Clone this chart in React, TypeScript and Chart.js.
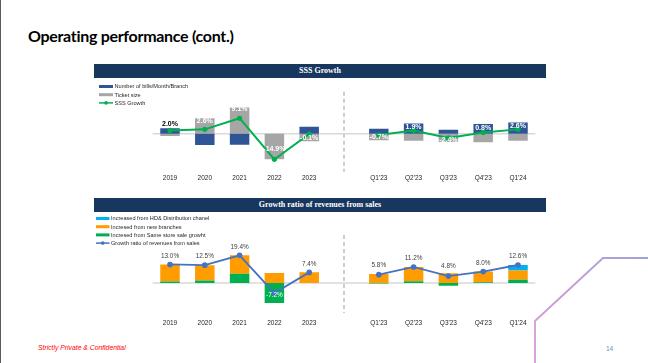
import React, { useEffect, useRef } from 'react';
import { Chart, registerables } from 'chart.js';

Chart.register(...registerables);

// ---------- DATA ----------
const categories = ['2019', '2020', '2021', '2022', '2023', '', "Q1'23", "Q2'23", "Q3'23", "Q4'23", "Q1'24"];

// SSS Growth chart
const billsData = [3.3, -6.5, -6.3, 0, 4.2, null, 3.0, 6.0, 2.4, 5.7, 6.6];
const ticketData = [-1.3, 9.1, 15.4, -14.9, -4.3, null, -3.7, -4.1, -4.8, -4.9, -4.0];
const sssData = [2.0, 2.6, 9.1, -14.9, -0.1, null, -0.7, 1.9, -2.4, 0.8, 2.6];
const sssLegend = ['Number of bills/Month/Branch', 'Ticket size', 'SSS Growth'];

// Revenue growth chart
const hdData = [0, 0, 0, 0, 0, null, 0, 0, 0, 0, 3.8];
const newBranchData = [12.0, 10.8, 12.9, 7.0, 7.5, null, 6.2, 10.0, 6.8, 7.5, 6.5];
const sameStoreData = [1.0, 1.7, 6.5, -14.2, -0.1, null, -0.4, 1.2, -2.0, 0.5, 2.3];
const growthData = [13.0, 12.5, 19.4, -7.2, 7.4, null, 5.8, 11.2, 4.8, 8.0, 12.6];
const revLegend = [
  'Increased from HD& Distribution chanel',
  'Incresed from new branches',
  'Incresed from Same store sale growht',
  'Growth ratio of revenues from sales',
];

// ---------- STYLE ----------
const NAVY = '#17375E';
const BLUE = '#2F5597';
const GRAY = '#A6A6A6';
const GREEN = '#00B050';
const ORANGE = '#FF9C00';
const SKY = '#00B0F0';
const LINEBLUE = '#4472C4';
const FONT = "'Liberation Sans', Arial, sans-serif";

const sssLabelOffsets = [-6.5, -8, -9, -10, 4.5, 0, 2, -3.5, 2, -4.5, -3];
const revLabelOffsets = [-8.5, -8.5, -8, 2.5, -8.5, 0, -9, -9, -10, -8.5, -8.5];

type LegendItem = { text: string; color: string; kind: 'bar' | 'line' };

function makeDecor(opts: {
  dashTop: number;
  dashBottom: number;
  lineIndex: number;
  offsets: number[];
  labelColor: (i: number) => string;
  labelFont: string;
  legend: LegendItem[];
  legendX: number;
  legendTextX: number;
  legendY: number;
  legendStep: number;
}) {
  return {
    id: 'decor',
    beforeDatasetsDraw(chart: any) {
      const { ctx, chartArea, scales } = chart;
      const y0 = scales.y.getPixelForValue(0);
      ctx.save();
      ctx.strokeStyle = '#D9D9D9';
      ctx.lineWidth = 1.5;
      ctx.beginPath();
      ctx.moveTo(chartArea.left, y0);
      ctx.lineTo(chartArea.right, y0);
      ctx.stroke();
      const xs = scales.x.getPixelForValue(5);
      ctx.setLineDash([4, 3]);
      ctx.strokeStyle = '#BFBFBF';
      ctx.beginPath();
      ctx.moveTo(xs, opts.dashTop);
      ctx.lineTo(xs, opts.dashBottom);
      ctx.stroke();
      ctx.restore();
    },
    afterDatasetsDraw(chart: any) {
      const { ctx } = chart;
      const meta = chart.getDatasetMeta(opts.lineIndex);
      const data = chart.data.datasets[opts.lineIndex].data as (number | null)[];
      ctx.save();
      ctx.font = opts.labelFont;
      ctx.textAlign = 'center';
      ctx.textBaseline = 'middle';
      meta.data.forEach((pt: any, i: number) => {
        const v = data[i];
        if (v === null || v === undefined) return;
        ctx.fillStyle = opts.labelColor(i);
        ctx.fillText(v.toFixed(1) + '%', pt.x, pt.y + opts.offsets[i]);
      });
      ctx.restore();
    },
    afterDraw(chart: any) {
      const { ctx } = chart;
      ctx.save();
      ctx.font = `5.6px ${FONT}`;
      ctx.textBaseline = 'middle';
      ctx.textAlign = 'left';
      opts.legend.forEach((item, i) => {
        const y = opts.legendY + i * opts.legendStep;
        if (item.kind === 'bar') {
          ctx.fillStyle = item.color;
          ctx.fillRect(opts.legendX, y - 1.5, opts.legendTextX - opts.legendX - 1.5, 3);
        } else {
          ctx.strokeStyle = item.color;
          ctx.lineWidth = 1.5;
          ctx.beginPath();
          ctx.moveTo(opts.legendX, y);
          ctx.lineTo(opts.legendTextX - 1.5, y);
          ctx.stroke();
          ctx.fillStyle = item.color;
          ctx.beginPath();
          ctx.arc((opts.legendX + opts.legendTextX - 1.5) / 2, y, 1.8, 0, Math.PI * 2);
          ctx.fill();
        }
        ctx.fillStyle = '#262626';
        ctx.fillText(item.text, opts.legendTextX, y + 0.3);
      });
      ctx.restore();
    },
  };
}

function xAxis(pad: number) {
  return {
    grid: { display: false, drawTicks: false },
    border: { display: false },
    ticks: { color: '#262626', font: { family: FONT, size: 6.5 }, padding: pad, maxRotation: 0, autoSkip: false },
  };
}

export default function App() {
  const ref1 = useRef<HTMLCanvasElement>(null);
  const ref2 = useRef<HTMLCanvasElement>(null);

  useEffect(() => {
    const c1 = new Chart(ref1.current!, {
      type: 'bar',
      data: {
        labels: categories,
        datasets: [
          {
            type: 'line',
            label: sssLegend[2],
            data: sssData,
            borderColor: GREEN,
            backgroundColor: GREEN,
            borderWidth: 2,
            pointRadius: 2.6,
            pointBackgroundColor: GREEN,
            pointBorderWidth: 0,
            spanGaps: false,
            tension: 0,
            order: 0,
          } as any,
          {
            label: sssLegend[0],
            data: billsData,
            backgroundColor: BLUE,
            stack: 's',
            order: 1,
            categoryPercentage: 0.8,
            barPercentage: 0.7,
          },
          {
            label: sssLegend[1],
            data: ticketData,
            backgroundColor: GRAY,
            stack: 's',
            order: 1,
            categoryPercentage: 0.8,
            barPercentage: 0.7,
          },
        ],
      },
      options: {
        animation: false,
        responsive: false,
        maintainAspectRatio: false,
        layout: { padding: { left: 58.6, right: 10.6, top: 14, bottom: 4.2 } },
        plugins: { legend: { display: false }, tooltip: { enabled: false } },
        scales: {
          x: { ...xAxis(4), stacked: true } as any,
          y: { display: false, stacked: true, min: -21.1, max: 24.4 },
        },
      },
      plugins: [
        makeDecor({
          dashTop: 13.7,
          dashBottom: 93.7,
          lineIndex: 0,
          offsets: sssLabelOffsets,
          labelColor: (i) => (i === 0 ? '#000000' : '#FFFFFF'),
          labelFont: `bold 7px ${FONT}`,
          legend: [
            { text: sssLegend[0], color: BLUE, kind: 'bar' },
            { text: sssLegend[1], color: GRAY, kind: 'bar' },
            { text: sssLegend[2], color: GREEN, kind: 'line' },
          ],
          legendX: 5,
          legendTextX: 20.5,
          legendY: 8.5,
          legendStep: 8.2,
        }),
      ],
    });

    const c2 = new Chart(ref2.current!, {
      type: 'bar',
      data: {
        labels: categories,
        datasets: [
          {
            type: 'line',
            label: revLegend[3],
            data: growthData,
            borderColor: LINEBLUE,
            backgroundColor: LINEBLUE,
            borderWidth: 1.8,
            pointRadius: 2.8,
            pointBackgroundColor: LINEBLUE,
            pointBorderWidth: 0,
            spanGaps: false,
            tension: 0,
            order: 0,
          } as any,
          {
            label: revLegend[2],
            data: sameStoreData,
            backgroundColor: GREEN,
            stack: 's',
            order: 1,
            categoryPercentage: 0.8,
            barPercentage: 0.7,
          },
          {
            label: revLegend[1],
            data: newBranchData,
            backgroundColor: ORANGE,
            stack: 's',
            order: 1,
            categoryPercentage: 0.8,
            barPercentage: 0.7,
          },
          {
            label: revLegend[0],
            data: hdData,
            backgroundColor: SKY,
            stack: 's',
            order: 1,
            categoryPercentage: 0.8,
            barPercentage: 0.7,
          },
        ],
      },
      options: {
        animation: false,
        responsive: false,
        maintainAspectRatio: false,
        layout: { padding: { left: 58.6, right: 10.6, top: 30, bottom: 2.2 } },
        plugins: { legend: { display: false }, tooltip: { enabled: false } },
        scales: {
          x: { ...xAxis(6), stacked: true } as any,
          y: { display: false, stacked: true, min: -21.2, max: 28.8 },
        },
      },
      plugins: [
        makeDecor({
          dashTop: 23,
          dashBottom: 101,
          lineIndex: 0,
          offsets: revLabelOffsets,
          labelColor: (i) => (i === 3 ? '#FFFFFF' : '#404040'),
          labelFont: `6.4px ${FONT}`,
          legend: [
            { text: revLegend[0], color: SKY, kind: 'bar' },
            { text: revLegend[1], color: ORANGE, kind: 'bar' },
            { text: revLegend[2], color: GREEN, kind: 'bar' },
            { text: revLegend[3], color: LINEBLUE, kind: 'line' },
          ],
          legendX: 2,
          legendTextX: 17,
          legendY: 6.5,
          legendStep: 8.2,
        }),
      ],
    });

    return () => {
      c1.destroy();
      c2.destroy();
    };
  }, []);

  const abs = (l: number, t: number, w: number, h: number): React.CSSProperties => ({
    position: 'absolute',
    left: l,
    top: t,
    width: w,
    height: h,
  });

  return (
    <div style={{ position: 'fixed', left: 0, top: 0, width: 648, height: 363, background: '#FFFFFF', overflow: 'hidden' }}>
      <div style={{ ...abs(0, 0, 1, 363), background: '#595959' }} />
      <div
        style={{
          position: 'absolute',
          left: 28,
          top: 27.5,
          fontFamily: "Lato, 'Open Sans', sans-serif",
          fontWeight: 700,
          fontSize: 16,
          lineHeight: '16px',
          color: '#000',
          whiteSpace: 'nowrap',
          letterSpacing: -0.3,
        }}
      >
        Operating performance (cont.)
      </div>

      <div
        style={{
          ...abs(94, 64, 452, 14),
          background: NAVY,
          color: '#FFF',
          fontFamily: "'Liberation Serif', 'Times New Roman', serif",
          fontWeight: 700,
          fontSize: 8,
          lineHeight: '14px',
          textAlign: 'center',
        }}
      >
        SSS Growth
      </div>
      <canvas ref={ref1} width={452} height={112} style={{ ...abs(94, 78, 452, 112) }} />

      <div
        style={{
          ...abs(94, 197.5, 452, 14.5),
          background: NAVY,
          color: '#FFF',
          fontFamily: "'Liberation Serif', 'Times New Roman', serif",
          fontWeight: 700,
          fontSize: 8,
          lineHeight: '14.5px',
          textAlign: 'center',
        }}
      >
        Growth ratio of revenues from sales
      </div>
      <canvas ref={ref2} width={452} height={123} style={{ ...abs(94, 212, 452, 123) }} />

      <div
        style={{
          position: 'absolute',
          left: 38,
          top: 344,
          fontFamily: FONT,
          fontStyle: 'italic',
          fontSize: 6.8,
          lineHeight: '8px',
          color: '#FF0000',
          whiteSpace: 'nowrap',
        }}
      >
        Strictly Private &amp; Confidential
      </div>
      <div
        style={{
          position: 'absolute',
          left: 606,
          top: 344.5,
          fontFamily: FONT,
          fontSize: 6.5,
          lineHeight: '8px',
          color: '#6F8FB5',
        }}
      >
        14
      </div>

      <svg width={648} height={363} style={{ position: 'absolute', left: 0, top: 0, pointerEvents: 'none' }}>
        <defs>
          <linearGradient id="pg" x1="535" y1="0" x2="648" y2="0" gradientUnits="userSpaceOnUse">
            <stop offset="0" stopColor="#D39AD6" />
            <stop offset="1" stopColor="#9DA3DB" />
          </linearGradient>
        </defs>
        <polyline points="535,363 535,321 603,258 648,258" fill="none" stroke="url(#pg)" strokeWidth={1.8} />
      </svg>
    </div>
  );
}
